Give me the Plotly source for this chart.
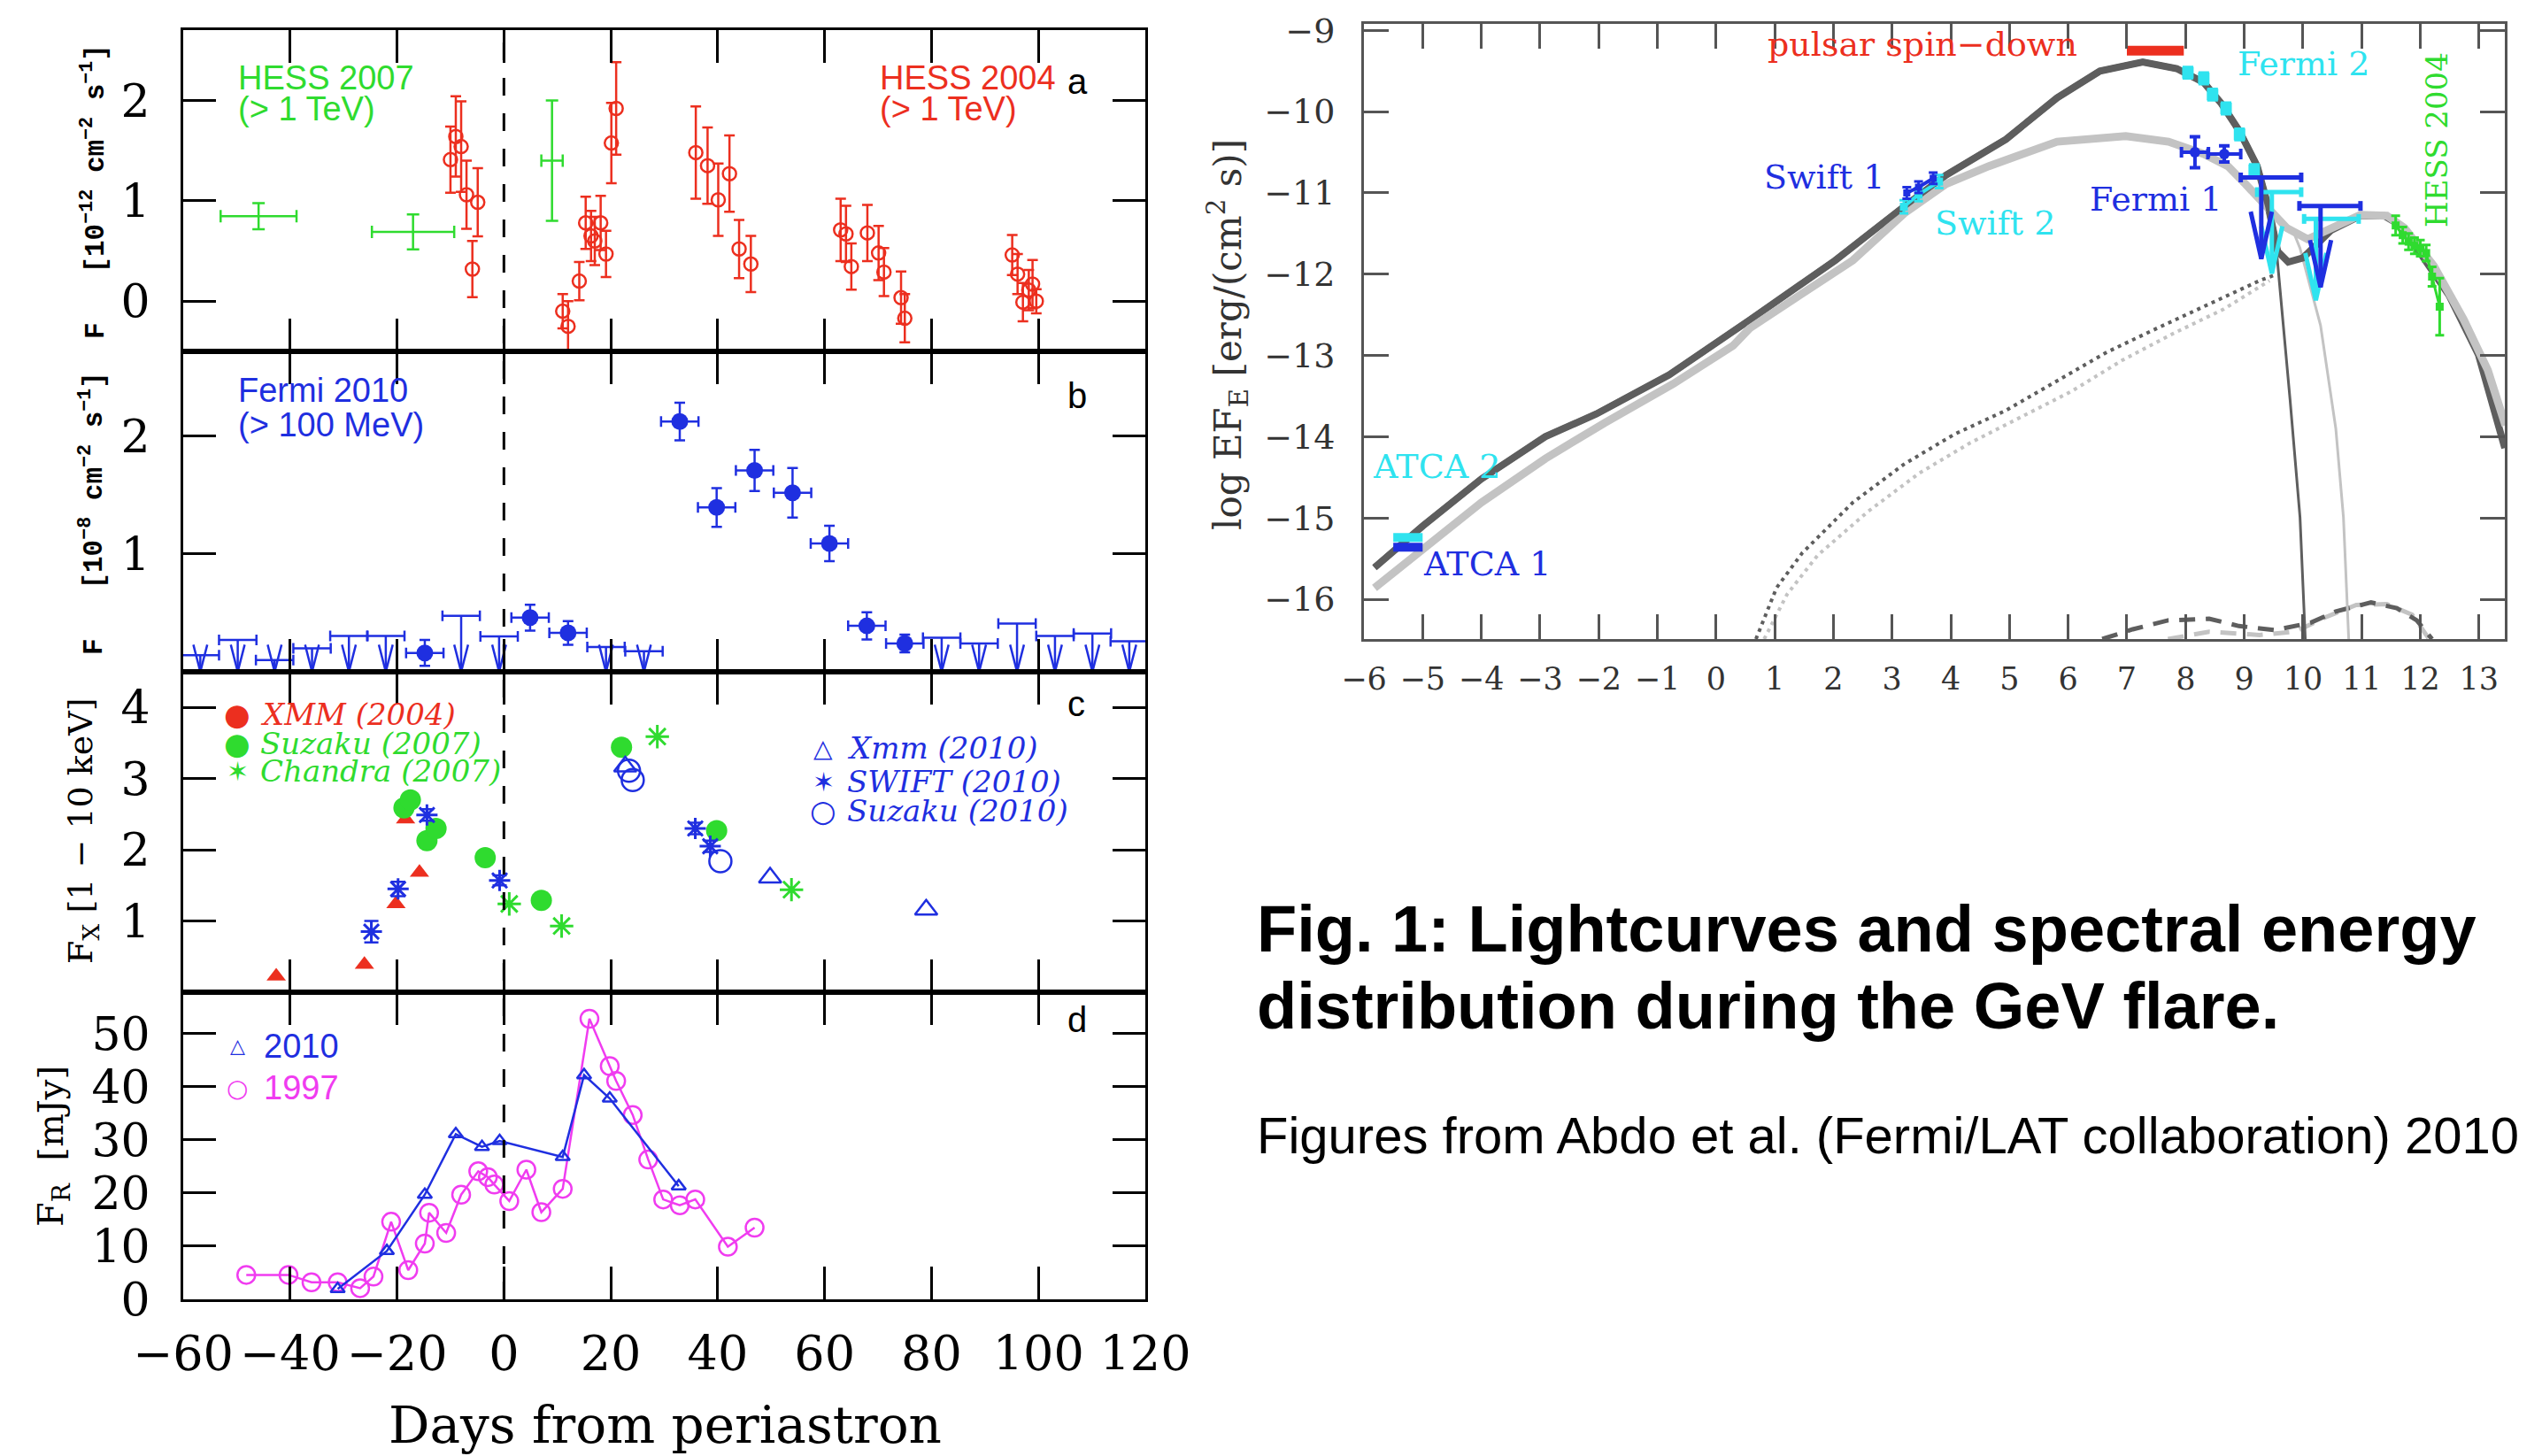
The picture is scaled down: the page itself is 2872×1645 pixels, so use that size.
import plotly.graph_objects as go

W, H = 2872, 1645

# ======================= DATA =======================
DAY_TICKS = [-60, -40, -20, 0, 20, 40, 60, 80, 100, 120]
PERIASTRON_DAY = 0

# --- panel a : H.E.S.S. TeV light curves ---
HESS04_DAY = [-10.0, -9.0, -8.0, -7.0, -5.9, -4.9, 11.0, 12.0, 14.1, 15.3, 16.3, 17.0,
              18.1, 19.1, 20.1, 21.0, 35.9, 38.1, 40.1, 42.2, 44.0, 46.2, 63.0, 64.0,
              65.0, 68.0, 70.1, 71.1, 74.3, 75.0, 95.1, 96.1, 97.1, 98.2, 98.9, 99.6]
HESS04_FLUX = [1.41, 1.64, 1.54, 1.06, 0.32, 0.985, -0.10, -0.25, 0.20, 0.78, 0.65, 0.60,
               0.78, 0.47, 1.575, 1.92, 1.48, 1.35, 1.01, 1.27, 0.52, 0.37, 0.71, 0.67,
               0.345, 0.68, 0.48, 0.29, 0.035, -0.17, 0.46, 0.27, -0.01, 0.11, 0.17, 0.0]
HESS04_ERR = [0.33, 0.40, 0.45, 0.34, 0.28, 0.34, 0.17, 0.25, 0.19, 0.26, 0.25, 0.24,
              0.27, 0.23, 0.40, 0.46, 0.46, 0.38, 0.36, 0.38, 0.29, 0.28, 0.31, 0.28,
              0.23, 0.28, 0.27, 0.24, 0.26, 0.24, 0.20, 0.20, 0.19, 0.20, 0.24, 0.12]
HESS07_DAY = [-45.9, -17.0, 9.0]
HESS07_DAY_ERR = [7.1, 7.7, 2.0]
HESS07_FLUX = [0.847, 0.69, 1.40]
HESS07_ERR = [0.13, 0.175, 0.60]

# --- panel b : Fermi > 100 MeV ---
FERMI_DAY = [-14.8, 4.9, 12.0, 32.9, 39.8, 46.9, 54.0, 60.9, 67.9, 75.0]
FERMI_FLUX = [0.16, 0.46, 0.33, 2.125, 1.395, 1.71, 1.52, 1.09, 0.39, 0.24]
FERMI_ERR = [0.11, 0.11, 0.10, 0.16, 0.165, 0.175, 0.21, 0.15, 0.115, 0.075]
FERMI_BIN_HALF = 3.5
FERMI_UL_DAY = [-56.8, -49.8, -42.9, -35.9, -29.0, -22.1, -8.0, -0.9, 19.1, 26.2,
                81.9, 88.9, 96.0, 103.1, 110.1, 117.0]
FERMI_UL_FLUX = [0.14, 0.27, 0.10, 0.20, 0.305, 0.305, 0.475, 0.30, 0.21, 0.175,
                 0.29, 0.24, 0.41, 0.305, 0.325, 0.26]

# --- panel c : X-ray 1-10 keV ---
XMM04_DAY = [-42.6, -26.1, -20.2, -18.4, -15.8]
XMM04_FLUX = [0.224, 0.39, 1.24, 2.43, 1.68]
SUZ07_DAY = [-18.7, -17.5, -14.4, -12.7, -3.5, 7.0, 22.0, 39.8]
SUZ07_FLUX = [2.59, 2.70, 2.13, 2.30, 1.89, 1.29, 3.44, 2.27]
CHA07_DAY = [1.0, 10.8, 28.7, 53.8]
CHA07_FLUX = [1.24, 0.93, 3.59, 1.44]
XMM10_DAY = [22.7, 49.8, 79.0]
XMM10_FLUX = [3.17, 1.61, 1.16]
SWIFT10_DAY = [-24.8, -19.8, -14.4, -0.8, 35.8, 38.6]
SWIFT10_FLUX = [0.85, 1.45, 2.49, 1.57, 2.30, 2.05]
SWIFT10_ERR = [0.15, 0.10, 0.08, 0.07, 0.08, 0.08]
SUZ10_DAY = [23.4, 24.1, 40.5]
SUZ10_FLUX = [3.11, 2.98, 1.84]

# --- panel d : radio ---
R2010_DAY = [-31.1, -21.9, -14.8, -9.0, -4.1, -0.8, 11.0, 15.0, 19.8, 32.7]
R2010_FLUX = [1.95, 9.1, 19.7, 31.1, 28.7, 29.8, 26.8, 42.2, 37.8, 21.3]
R1997_DAY = [-48.2, -40.3, -36.0, -31.1, -26.9, -24.4, -21.1, -17.9, -14.8, -14.0,
             -10.8, -8.0, -4.8, -3.0, -1.8, 1.0, 4.2, 7.0, 11.0, 16.0, 19.8, 21.0,
             24.1, 27.0, 29.8, 32.9, 35.8, 41.9, 46.9]
R1997_FLUX = [4.6, 4.6, 3.2, 3.2, 2.1, 4.3, 14.6, 5.5, 10.5, 16.3, 12.5, 19.7, 24.1,
              23.0, 21.6, 18.5, 24.4, 16.4, 20.8, 52.8, 43.9, 41.1, 34.7, 26.3, 18.8,
              17.7, 18.8, 9.9, 13.5]

# --- SED (log E [eV] vs log EF_E) ---
SED_XTICKS = list(range(-6, 14))
SED_YTICKS = list(range(-16, -8))
MODEL_DARK_X = [-5.82, -5.0, -4.0, -2.91, -2.04, -0.8, 0.58, 2.03, 3.20, 3.92, 4.94, 5.81,
                6.54, 7.27, 7.85, 8.31, 8.61, 8.91, 9.22, 9.41, 9.57, 9.75, 10.0, 10.48,
                10.98, 11.38, 11.64, 11.98, 12.49, 12.99, 13.44]
MODEL_DARK_Y = [-15.61, -15.10, -14.52, -14.0, -13.72, -13.24, -12.56, -11.83, -11.17,
                -10.78, -10.34, -9.83, -9.50, -9.39, -9.47, -9.64, -9.90, -10.23, -10.67,
                -11.17, -11.72, -11.85, -11.80, -11.46, -11.28, -11.28, -11.39, -11.72,
                -12.26, -12.99, -14.14]
MODEL_LIGHT_X = [-5.82, -5.0, -4.0, -2.91, -1.9, -0.73, 0.29, 0.58, 2.33, 3.21, 3.92, 4.65,
                 5.81, 6.98, 7.71, 8.31, 8.72, 9.02, 9.37, 9.72, 10.08, 10.48, 10.98, 11.43,
                 11.73, 12.23, 12.74, 13.15, 13.45]
MODEL_LIGHT_Y = [-15.86, -15.39, -14.81, -14.27, -13.83, -13.35, -12.88, -12.66, -11.83,
                 -11.25, -10.89, -10.67, -10.37, -10.30, -10.37, -10.52, -10.67, -10.89,
                 -11.17, -11.43, -11.57, -11.43, -11.27, -11.28, -11.43, -11.90, -12.56,
                 -13.18, -13.86]
SYNC_DARK_X = [9.50, 9.56, 9.78, 9.95, 10.04]
SYNC_DARK_Y = [-11.60, -11.79, -13.54, -14.99, -16.49]
SYNC_LIGHT_X = [9.85, 9.95, 10.30, 10.56, 10.69, 10.78]
SYNC_LIGHT_Y = [-11.50, -11.68, -12.63, -13.90, -14.99, -16.49]
IC_DARK_X = [0.68, 1.03, 1.47, 2.33, 3.20, 4.06, 4.93, 5.80, 6.66, 7.53, 8.40, 9.26, 9.52]
IC_DARK_Y = [-16.49, -15.86, -15.43, -14.81, -14.34, -13.97, -13.68, -13.32, -12.96,
             -12.66, -12.37, -12.08, -12.01]
IC_LIGHT_X = [0.82, 1.21, 1.73, 2.59, 3.46, 4.32, 5.19, 6.06, 6.92, 7.79, 8.65, 9.43]
IC_LIGHT_Y = [-16.49, -15.94, -15.46, -14.92, -14.45, -14.08, -13.76, -13.44, -13.06,
              -12.73, -12.43, -12.08]
PAIR_DARK_X = [6.58, 7.10, 7.70, 8.40, 8.91, 9.52, 10.13, 10.56, 11.16, 11.60, 11.94, 12.20]
PAIR_DARK_Y = [-16.49, -16.37, -16.26, -16.24, -16.33, -16.38, -16.29, -16.15, -16.04,
               -16.11, -16.26, -16.49]
PAIR_LIGHT_X = [7.70, 8.40, 9.26, 9.87, 10.39, 10.91, 11.43, 11.86, 12.15]
PAIR_LIGHT_Y = [-16.49, -16.40, -16.44, -16.40, -16.22, -16.07, -16.06, -16.19, -16.49]

ATCA1_X = [-5.5, -5.0]
ATCA1_Y = -15.36
ATCA2_X = [-5.5, -5.0]
ATCA2_Y = -15.24
SWIFT1_X = [3.25, 3.45, 3.70]
SWIFT1_Y = [-11.00, -10.93, -10.82]
SWIFT2_X = [3.20, 3.45, 3.80]
SWIFT2_Y = [-11.17, -11.02, -10.86]
SED_FERMI2_X = [8.04, 8.31, 8.46, 8.69, 8.92, 9.17]
SED_FERMI2_Y = [-9.52, -9.59, -9.79, -9.96, -10.28, -10.72]
SED_FERMI1_X = [8.16, 8.66]
SED_FERMI1_Y = [-10.50, -10.52]
SED_FERMI1_XERR = [0.23, 0.28]
SED_FERMI1_YERR = [0.19, 0.10]
SED_FERMI1_UL_LO = [8.94, 9.94]
SED_FERMI1_UL_HI = [9.97, 10.98]
SED_FERMI1_UL_Y = [-10.81, -11.16]
SED_FERMI1_UL_ARROW_X = [9.29, 10.30]
SED_FERMI2_UL_LO = [9.22, 10.02]
SED_FERMI2_UL_HI = [9.97, 10.95]
SED_FERMI2_UL_Y = [-10.99, -11.32]
SED_FERMI2_UL_ARROW_X = [9.47, 10.22]
SED_HESS_X = [11.58, 11.70, 11.80, 11.90, 12.00, 12.10, 12.20, 12.33]
SED_HESS_Y = [-11.40, -11.52, -11.60, -11.65, -11.68, -11.74, -12.03, -12.40]
SED_HESS_ERR = [0.12, 0.10, 0.10, 0.10, 0.10, 0.10, 0.12, 0.35]
PULSAR_X = [7.0, 7.97]
PULSAR_Y = -9.25

# ======================= STYLE =======================
RED = '#ec2f1f'
GREEN = '#2fdb2f'
BLUE = '#1f2fe0'
MAGENTA = '#f03cf0'
CYAN = '#2fe3ef'
DARK = '#5e5e5e'
LIGHT = '#c3c3c3'
SERIF = 'DejaVu Serif'
SANS = 'Liberation Sans'


def px(x):
    return x / W


def py(y):
    return 1 - y / H


LEFT = (207, 1294)
PANELS = [(34, 397, [-0.5, 2.7], [0, 1, 2]),
          (397, 759, [0, 2.72], [1, 2]),
          (759, 1121, [0, 4.5], [1, 2, 3, 4]),
          (1121, 1468, [0, 57.8], [0, 10, 20, 30, 40, 50])]
SED_BOX = (1541, 2830, 27, 722)

fig = go.Figure()
AX = ['x', 'x2', 'x3', 'x4']
AY = ['y', 'y2', 'y3', 'y4']


def eb(arr, color, width=6, thick=2.5):
    return dict(type='data', array=arr, visible=True, color=color, width=width, thickness=thick)


# ---- panel a ----
fig.add_trace(go.Scatter(x=HESS07_DAY, y=HESS07_FLUX, mode='markers', xaxis='x', yaxis='y',
                         marker=dict(size=0.1, color=GREEN),
                         error_x=eb(HESS07_DAY_ERR, GREEN, 7, 2.5),
                         error_y=eb(HESS07_ERR, GREEN, 7, 2.5)))
fig.add_trace(go.Scatter(x=HESS04_DAY, y=HESS04_FLUX, mode='markers', xaxis='x', yaxis='y',
                         marker=dict(symbol='circle-open', size=15, color=RED,
                                     line=dict(width=2.5, color=RED)),
                         error_y=eb(HESS04_ERR, RED, 6, 2.5)))

# ---- panel b ----
ul_hw, ul_hh = 1.3, 0.23
arr_x, arr_y = [], []
for c, u in zip(FERMI_UL_DAY, FERMI_UL_FLUX):
    arr_x += [c, c, None, c - ul_hw, c, c + ul_hw, None]
    arr_y += [u, 0, None, ul_hh, 0, ul_hh, None]
fig.add_trace(go.Scatter(x=arr_x, y=arr_y, mode='lines', xaxis='x2', yaxis='y2',
                         line=dict(color=BLUE, width=2.5)))
fig.add_trace(go.Scatter(x=FERMI_UL_DAY, y=FERMI_UL_FLUX, mode='markers', xaxis='x2', yaxis='y2',
                         marker=dict(size=0.1, color=BLUE),
                         error_x=eb([FERMI_BIN_HALF] * len(FERMI_UL_DAY), BLUE, 6, 2.5)))
fig.add_trace(go.Scatter(x=FERMI_DAY, y=FERMI_FLUX, mode='markers', xaxis='x2', yaxis='y2',
                         marker=dict(symbol='circle', size=19, color=BLUE),
                         error_x=eb([FERMI_BIN_HALF] * len(FERMI_DAY), BLUE, 6, 2.5),
                         error_y=eb(FERMI_ERR, BLUE, 6, 2.5)))

# ---- panel c ----
fig.add_trace(go.Scatter(x=XMM04_DAY, y=XMM04_FLUX, mode='markers', xaxis='x3', yaxis='y3',
                         marker=dict(symbol='triangle-up', size=19, color=RED)))
fig.add_trace(go.Scatter(x=SUZ07_DAY, y=SUZ07_FLUX, mode='markers', xaxis='x3', yaxis='y3',
                         marker=dict(symbol='circle', size=24, color=GREEN)))
fig.add_trace(go.Scatter(x=CHA07_DAY, y=CHA07_FLUX, mode='markers', xaxis='x3', yaxis='y3',
                         marker=dict(symbol='asterisk-open', size=22, color=GREEN,
                                     line=dict(width=3, color=GREEN))))
fig.add_trace(go.Scatter(x=XMM10_DAY, y=XMM10_FLUX, mode='markers', xaxis='x3', yaxis='y3',
                         marker=dict(symbol='triangle-up-open', size=22, color=BLUE,
                                     line=dict(width=2.5, color=BLUE))))
fig.add_trace(go.Scatter(x=SWIFT10_DAY, y=SWIFT10_FLUX, mode='markers', xaxis='x3', yaxis='y3',
                         marker=dict(symbol='asterisk-open', size=20, color=BLUE,
                                     line=dict(width=3, color=BLUE)),
                         error_y=eb(SWIFT10_ERR, BLUE, 8, 2.5)))
fig.add_trace(go.Scatter(x=SUZ10_DAY, y=SUZ10_FLUX, mode='markers', xaxis='x3', yaxis='y3',
                         marker=dict(symbol='circle-open', size=25, color=BLUE,
                                     line=dict(width=2.5, color=BLUE))))

# ---- panel d ----
fig.add_trace(go.Scatter(x=R1997_DAY, y=R1997_FLUX, mode='lines+markers', xaxis='x4', yaxis='y4',
                         line=dict(color=MAGENTA, width=2.5),
                         marker=dict(symbol='circle-open', size=20, color=MAGENTA,
                                     line=dict(width=2.5, color=MAGENTA))))
fig.add_trace(go.Scatter(x=R2010_DAY, y=R2010_FLUX, mode='lines+markers', xaxis='x4', yaxis='y4',
                         line=dict(color=BLUE, width=2.5),
                         marker=dict(symbol='triangle-up-open', size=14, color=BLUE,
                                     line=dict(width=2.5, color=BLUE))))


# ---- SED ----
def sed_line(x, y, color, width, dash='solid'):
    fig.add_trace(go.Scatter(x=x, y=y, mode='lines', xaxis='x5', yaxis='y5',
                             line=dict(color=color, width=width, dash=dash)))


sed_line(IC_LIGHT_X, IC_LIGHT_Y, LIGHT, 4, '4px,5px')
sed_line(IC_DARK_X, IC_DARK_Y, DARK, 4, '4px,5px')
sed_line(PAIR_LIGHT_X, PAIR_LIGHT_Y, LIGHT, 5, '18px,12px')
sed_line(PAIR_DARK_X, PAIR_DARK_Y, DARK, 5, '18px,12px')
sed_line(SYNC_LIGHT_X, SYNC_LIGHT_Y, LIGHT, 3)
sed_line(SYNC_DARK_X, SYNC_DARK_Y, DARK, 3)
sed_line(MODEL_DARK_X, MODEL_DARK_Y, DARK, 8)
sed_line(MODEL_LIGHT_X, MODEL_LIGHT_Y, LIGHT, 9)
# dark model drawn again over the light one on the synchrotron branch
sed_line(MODEL_DARK_X[:21], MODEL_DARK_Y[:21], DARK, 7)

sed_line(PULSAR_X, [PULSAR_Y, PULSAR_Y], RED, 11)
sed_line(ATCA2_X, [ATCA2_Y, ATCA2_Y], CYAN, 10)
sed_line(ATCA1_X, [ATCA1_Y, ATCA1_Y], BLUE, 10)
fig.add_trace(go.Scatter(x=SWIFT2_X, y=SWIFT2_Y, mode='lines+markers', xaxis='x5', yaxis='y5',
                         line=dict(color=CYAN, width=4), marker=dict(symbol='square', size=9, color=CYAN),
                         error_y=eb([0.08] * 3, CYAN, 5, 3)))
fig.add_trace(go.Scatter(x=SWIFT1_X, y=SWIFT1_Y, mode='lines+markers', xaxis='x5', yaxis='y5',
                         line=dict(color=BLUE, width=4), marker=dict(symbol='square', size=8, color=BLUE),
                         error_y=eb([0.07] * 3, BLUE, 5, 3)))
fig.add_trace(go.Scatter(x=SED_FERMI2_X, y=SED_FERMI2_Y, mode='markers', xaxis='x5', yaxis='y5',
                         marker=dict(symbol='square', size=13, color=CYAN),
                         error_y=eb([0.07] * len(SED_FERMI2_X), CYAN, 6, 3)))


def sed_ul(lo, hi, yv, ax_, color, hw=0.18, hh=0.58, length=1.0):
    bx, by, vx, vy = [], [], [], []
    for a, b, v, c in zip(lo, hi, yv, ax_):
        bx += [a, a, None, a, b, None, b, b, None]
        by += [v + 0.06, v - 0.06, None, v, v, None, v + 0.06, v - 0.06, None]
        vx += [c, c, None, c - hw, c, c + hw, None]
        vy += [v, v - length, None, v - length + hh, v - length, v - length + hh, None]
    fig.add_trace(go.Scatter(x=bx, y=by, mode='lines', xaxis='x5', yaxis='y5',
                             line=dict(color=color, width=5)))
    fig.add_trace(go.Scatter(x=vx, y=vy, mode='lines', xaxis='x5', yaxis='y5',
                             line=dict(color=color, width=5)))


sed_ul(SED_FERMI2_UL_LO, SED_FERMI2_UL_HI, SED_FERMI2_UL_Y, SED_FERMI2_UL_ARROW_X, CYAN)
sed_ul(SED_FERMI1_UL_LO, SED_FERMI1_UL_HI, SED_FERMI1_UL_Y, SED_FERMI1_UL_ARROW_X, BLUE)
fig.add_trace(go.Scatter(x=SED_FERMI1_X, y=SED_FERMI1_Y, mode='markers', xaxis='x5', yaxis='y5',
                         marker=dict(symbol='circle', size=12, color=BLUE),
                         error_x=eb(SED_FERMI1_XERR, BLUE, 6, 4),
                         error_y=eb(SED_FERMI1_YERR, BLUE, 6, 4)))
fig.add_trace(go.Scatter(x=SED_HESS_X, y=SED_HESS_Y, mode='lines+markers', xaxis='x5', yaxis='y5',
                         line=dict(color=GREEN, width=3),
                         marker=dict(symbol='square', size=9, color=GREEN),
                         error_y=eb(SED_HESS_ERR, GREEN, 5, 3)))

# ======================= LAYOUT =======================
axis_base = dict(showline=True, linewidth=3, linecolor='black', mirror='ticks',
                 ticks='inside', ticklen=37, tickwidth=3, tickcolor='black',
                 showgrid=False, zeroline=False, fixedrange=True, automargin=False)
layout = {}
for i, (top, bot, yr, yt) in enumerate(PANELS):
    xname = 'xaxis' if i == 0 else f'xaxis{i + 1}'
    yname = 'yaxis' if i == 0 else f'yaxis{i + 1}'
    layout[xname] = dict(axis_base, domain=[px(LEFT[0]), px(LEFT[1])], range=[-60, 120],
                         tickvals=DAY_TICKS, anchor=AY[i], showticklabels=(i == 3),
                         tickfont=dict(family=SERIF, size=54, color='black'),
                         ticklabelstandoff=12)
    layout[yname] = dict(axis_base, domain=[py(bot), py(top)], range=yr, tickvals=yt,
                         anchor=AX[i], tickfont=dict(family=SERIF, size=52, color='black'),
                         ticklabelstandoff=24)

sed_axis = dict(showline=True, linewidth=3, linecolor='#555555', mirror='ticks',
                ticks='inside', ticklen=28, tickwidth=2.5, tickcolor='#555555',
                showgrid=False, zeroline=False, fixedrange=True, automargin=False)
layout['xaxis5'] = dict(sed_axis, domain=[px(SED_BOX[0]), px(SED_BOX[1])], range=[-6, 13.44],
                        tickvals=SED_XTICKS, anchor='y5',
                        tickfont=dict(family=SERIF, size=35, color='#333333'),
                        ticklabelstandoff=12)
layout['yaxis5'] = dict(sed_axis, domain=[py(SED_BOX[3]), py(SED_BOX[2])], range=[-16.49, -8.92],
                        tickvals=SED_YTICKS, anchor='x5',
                        tickfont=dict(family=SERIF, size=38, color='#333333'),
                        ticklabelstandoff=22)


def ann(text, x, y, size, color='black', family=SANS, xanchor='center', angle=0):
    return dict(text=text, x=px(x), y=py(y), xref='paper', yref='paper', showarrow=False,
                font=dict(size=size, color=color, family=family), xanchor=xanchor,
                yanchor='middle', textangle=angle)


NB = '\u00a0'
anns = [
    # panel a
    ann('HESS 2007', 267, 88, 38, GREEN, xanchor='left'),
    ann('(&gt; 1 TeV)', 267, 123, 38, GREEN, xanchor='left'),
    ann('HESS 2004', 992, 88, 38, RED, xanchor='left'),
    ann('(&gt; 1 TeV)', 992, 123, 38, RED, xanchor='left'),
    ann('a', 1204, 92, 40, 'black', xanchor='left'),
    # panel b
    ann('Fermi 2010', 267, 441, 38, BLUE, xanchor='left'),
    ann('(&gt; 100 MeV)', 267, 480, 38, BLUE, xanchor='left'),
    ann('b', 1204, 447, 40, 'black', xanchor='left'),
    # panel c
    ann('c', 1204, 795, 40, 'black', xanchor='left'),
    ann('\u25cf', 268, 807, 34, RED, family='DejaVu Sans'),
    ann('<i>XMM (2004)</i>', 292, 807, 34, RED, family=SERIF, xanchor='left'),
    ann('\u25cf', 268, 840, 34, GREEN, family='DejaVu Sans'),
    ann('<i>Suzaku (2007)</i>', 292, 840, 34, GREEN, family=SERIF, xanchor='left'),
    ann('\u2736', 268, 871, 30, GREEN, family='DejaVu Sans'),
    ann('<i>Chandra (2007)</i>', 292, 871, 34, GREEN, family=SERIF, xanchor='left'),
    ann('\u25b3', 930, 845, 28, BLUE, family='DejaVu Sans'),
    ann('<i>Xmm (2010)</i>', 955, 845, 34, BLUE, family=SERIF, xanchor='left'),
    ann('\u2736', 930, 883, 30, BLUE, family='DejaVu Sans'),
    ann('<i>SWIFT (2010)</i>', 955, 883, 34, BLUE, family=SERIF, xanchor='left'),
    ann('\u25cb', 930, 916, 34, BLUE, family='DejaVu Sans'),
    ann('<i>Suzaku (2010)</i>', 955, 916, 34, BLUE, family=SERIF, xanchor='left'),
    # panel d
    ann('d', 1204, 1152, 40, 'black', xanchor='left'),
    ann('\u25b3', 268, 1181, 22, BLUE, family='DejaVu Sans'),
    ann('2010', 296, 1182, 38, BLUE, xanchor='left'),
    ann('\u25cb', 268, 1229, 28, MAGENTA, family='DejaVu Sans'),
    ann('1997', 296, 1229, 38, MAGENTA, xanchor='left'),
    # y titles left
    ann('<b>F' + NB * 3 + '[10<sup>\u221212</sup> cm<sup>\u22122</sup> s<sup>\u22121</sup>]</b>',
        106, 217, 31, 'black', family='Liberation Mono', angle=-90),
    ann('<b>F' + NB * 3 + '[10<sup>\u22128</sup> cm<sup>\u22122</sup> s<sup>\u22121</sup>]</b>',
        104, 580, 31, 'black', family='Liberation Mono', angle=-90),
    ann('F<sub>X</sub> [1 \u2212 10 keV]', 93, 938, 38, 'black', family=SERIF, angle=-90),
    ann('F<sub>R</sub>' + NB + ' [mJy]', 60, 1295, 40, 'black', family=SERIF, angle=-90),
    ann('Days from periastron', 751, 1610, 58, 'black', family=SERIF),
    # SED labels
    ann('log EF<sub>E</sub> [erg/(cm<sup>2</sup> s)]', 1387, 378, 42, '#333333', family=SERIF, angle=-90),
    ann('pulsar spin\u2212down', 2172, 50, 38, RED, family=SERIF),
    ann('Fermi 2', 2602, 72, 38, CYAN, family=SERIF),
    ann('Swift 1', 2061, 200, 38, BLUE, family=SERIF),
    ann('Swift 2', 2254, 252, 38, CYAN, family=SERIF),
    ann('Fermi 1', 2435, 225, 38, BLUE, family=SERIF),
    ann('HESS 2004', 2753, 158, 34, GREEN, family=SERIF, angle=-90),
    ann('ATCA 2', 1623, 527, 38, CYAN, family=SERIF),
    ann('ATCA 1', 1680, 637, 38, BLUE, family=SERIF),
    # caption
    ann('<b>Fig. 1: Lightcurves and spectral energy</b>', 1418, 1049, 74, 'black', xanchor='left'),
    ann('<b>distribution during the GeV flare.</b>', 1418, 1136, 74, 'black', xanchor='left'),
    ann('Figures from Abdo et al. (Fermi/LAT collaboration) 2010', 1418, 1282, 58, 'black',
        xanchor='left'),
]

shapes = [dict(type='line', xref='x4', yref='paper', x0=PERIASTRON_DAY, x1=PERIASTRON_DAY,
               y0=py(PANELS[3][1]), y1=py(PANELS[0][0]),
               line=dict(color='black', width=3, dash='20px,20px'), layer='above')]

fig.update_layout(template='none', width=W, height=H, autosize=False,
                  margin=dict(l=0, r=0, t=0, b=0, pad=0, autoexpand=False),
                  paper_bgcolor='white', plot_bgcolor='white', showlegend=False,
                  hovermode=False, annotations=anns, shapes=shapes, **layout)

fig.write_html('out.html', config={'displayModeBar': False},
               post_script="document.body.style.margin='0px';"
                           "document.body.style.overflow='hidden';")
